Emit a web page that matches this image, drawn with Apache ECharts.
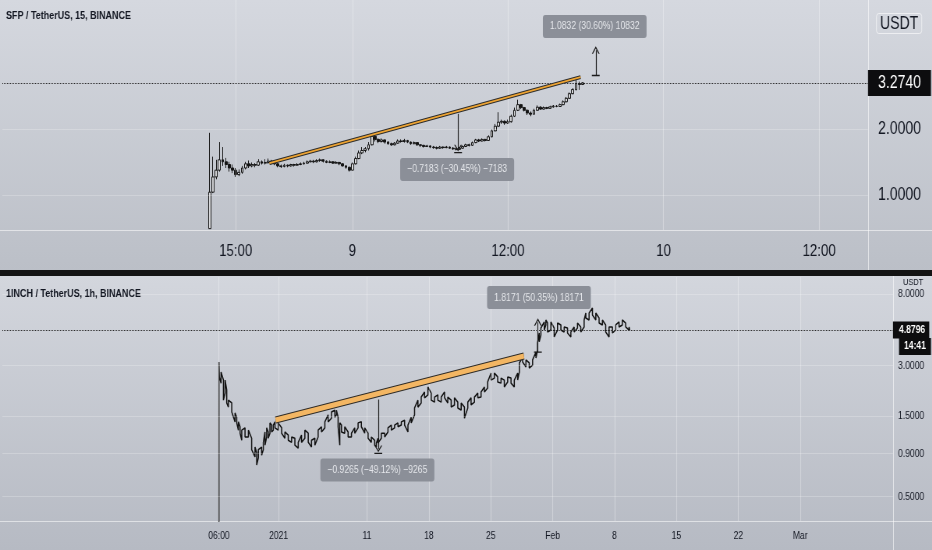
<!DOCTYPE html>
<html>
<head>
<meta charset="utf-8">
<title>SFP / 1INCH</title>
<script src="https://cdn.jsdelivr.net/npm/echarts@6/dist/echarts.min.js"></script>
<style>
html,body{margin:0;padding:0;width:932px;height:550px;overflow:hidden;background:#c5c8d0;}
#wrap{position:relative;width:932px;height:550px;overflow:hidden;}
.bg{position:absolute;left:0;width:932px;}
#bgTop{top:0;height:271px;background:linear-gradient(#d5d8df,#bbbfc7);}
#bgBot{top:276px;height:274px;background:linear-gradient(#d3d6dd,#b6bac3);}
#sep{position:absolute;left:0;top:270px;width:932px;height:6px;background:#141414;}
.hl{position:absolute;left:0;width:932px;height:1px;background:rgba(255,255,255,0.55);}
.vl{position:absolute;width:1px;background:rgba(255,255,255,0.55);}
#chart{position:absolute;left:0;top:0;height:550px;transform-origin:0 0;}
</style>
</head>
<body>
<div id="wrap">
<div class="bg" id="bgTop"></div>
<div class="bg" id="bgBot"></div>
<div id="sep"></div>
<div class="hl" style="top:230px"></div>
<div class="vl" style="left:868px;top:0;height:270px"></div>
<div class="hl" style="top:521px"></div>
<div class="vl" style="left:893px;top:276px;height:274px"></div>
<div id="chart"></div>
</div>
<script>
// ---------- top panel : SFP / TetherUS, 15 min ----------
const sfpTitle = 'SFP / TetherUS, 15, BINANCE';
const sfpStartHour = 13;      // hours since 8 Feb 00:00
const sfpStepHours = 0.25;    // 15-minute candles
const sfpFirstOpen = 0.70;
const sfpClose = [1.03,1.21,1.30,1.45,1.42,1.38,1.33,1.30,1.24,1.27,
  1.33,1.39,1.36,1.38,1.37,1.42,1.40,1.41,1.43,1.41,
  1.39,1.36,1.35,1.37,1.36,1.38,1.37,1.38,1.39,1.40,
  1.42,1.43,1.42,1.44,1.45,1.43,1.41,1.42,1.40,1.41,
  1.39,1.36,1.34,1.30,1.39,1.47,1.56,1.60,1.63,1.70,
  1.86,1.80,1.76,1.79,1.75,1.72,1.70,1.73,1.77,1.76,
  1.78,1.75,1.72,1.74,1.70,1.69,1.67,1.68,1.66,1.65,
  1.64,1.66,1.65,1.66,1.64,1.63,1.62,1.64,1.67,1.70,
  1.69,1.74,1.79,1.77,1.80,1.78,1.85,1.97,2.07,2.16,
  2.18,2.14,2.17,2.30,2.45,2.60,2.52,2.45,2.38,2.35,
  2.45,2.53,2.48,2.52,2.50,2.54,2.56,2.55,2.60,2.68,
  2.78,2.92,3.05,3.25,3.22,3.274];
const sfpHigh = [1.93,1.50,1.45,1.75,1.66,1.48,1.42,1.38,1.33,1.31,
  1.36,1.42,1.44,1.41,1.40,1.46,1.44,1.46,1.47,1.45,
  1.43,1.40,1.38,1.39,1.38,1.39,1.39,1.40,1.41,1.42,
  1.44,1.45,1.45,1.46,1.47,1.46,1.44,1.44,1.43,1.43,
  1.42,1.40,1.37,1.35,1.41,1.50,1.60,1.66,1.66,1.75,
  1.90,1.88,1.82,1.82,1.80,1.77,1.74,1.75,1.80,1.80,
  1.81,1.79,1.76,1.76,1.75,1.71,1.70,1.70,1.69,1.68,
  1.67,1.68,1.67,1.68,1.67,1.66,1.65,1.66,1.69,1.72,
  1.72,1.76,1.81,1.81,1.82,1.81,1.88,2.00,2.12,2.40,
  2.22,2.20,2.22,2.34,2.52,2.74,2.62,2.54,2.47,2.42,
  2.49,2.58,2.56,2.55,2.54,2.57,2.59,2.59,2.63,2.72,
  2.82,2.96,3.10,3.40,3.32,3.30];
const sfpLow = [0.70,1.02,1.18,1.28,1.36,1.33,1.28,1.26,1.21,1.22,
  1.25,1.31,1.33,1.34,1.34,1.36,1.38,1.38,1.39,1.38,
  1.37,1.34,1.33,1.34,1.34,1.35,1.35,1.36,1.37,1.38,
  1.39,1.41,1.40,1.41,1.42,1.41,1.40,1.40,1.39,1.39,
  1.37,1.35,1.32,1.28,1.29,1.38,1.46,1.54,1.57,1.60,
  1.69,1.76,1.73,1.74,1.72,1.70,1.68,1.69,1.72,1.74,
  1.74,1.73,1.70,1.71,1.68,1.66,1.65,1.66,1.64,1.63,
  1.62,1.63,1.63,1.64,1.63,1.61,1.60,1.61,1.63,1.66,
  1.67,1.68,1.73,1.75,1.76,1.76,1.77,1.84,1.96,2.05,
  2.12,2.10,2.12,2.15,2.28,2.43,2.48,2.42,2.33,2.30,
  2.34,2.44,2.46,2.47,2.48,2.49,2.52,2.53,2.54,2.58,
  2.66,2.76,2.90,3.02,3.04,3.20];
const sfpLast = 3.2740;
const sfpTickHours = [15, 24, 36, 48, 60];
const sfpTickLabels = ['15:00', '9', '12:00', '10', '12:00'];
const sfpPriceTicks = [2, 1];
const sfpTrend = [[17.6, 1.40], [41.6, 3.48]];
const sfpDrop = { at: 32.15, from: 2.3589, to: 1.6406, text: '\u22120.7183 (\u221230.45%) \u22127183', label: [32.08, 1.31] };
const sfpRise = { at: 42.77, from: 3.5399, to: 4.6231, text: '1.0832 (30.60%) 10832', label: [42.69, 5.95] };

// ---------- bottom panel : 1INCH / TetherUS, 1 h ----------
const inchTitle = '1INCH / TetherUS, 1h, BINANCE';
const inchListDay = -6.75;   // days since 1 Jan 2021 (25 Dec 06:00)
const inchListLow = 0.30;
const inchListHigh = 3.15;
const inchDays = [-6.70,-6.51,-6.24,-6.05,-5.87,-5.68,-5.30,-4.93,-4.74,-4.55,
  -4.36,-4.17,-3.80,-3.42,-3.05,-2.67,-2.48,-2.29,-1.92,-1.73,
  -1.54,-1.35,-1.17,-0.98,-0.79,-0.60,-0.41,-0.04,0.34,0.71,
  1.09,1.47,1.84,2.22,2.59,2.97,3.35,3.72,4.10,4.47,
  4.85,5.23,5.60,5.98,6.36,6.54,6.73,6.92,7.11,7.48,
  7.86,8.24,8.61,8.99,9.36,9.74,10.12,10.49,10.87,11.06,
  11.24,11.62,12.00,12.37,12.75,13.12,13.50,13.88,14.25,14.63,
  15.00,15.38,15.76,16.13,16.51,16.89,17.26,17.64,18.01,18.39,
  18.77,19.14,19.52,19.89,20.27,20.65,21.02,21.40,21.77,22.15,
  22.53,22.90,23.28,23.65,24.03,24.41,24.78,25.16,25.53,25.91,
  26.29,26.66,27.04,27.23,27.60,27.98,28.35,28.73,29.11,29.29,
  29.48,29.67,30.05,30.23,30.42,30.80,31.17,31.55,31.93,32.30,
  32.68,33.06,33.43,33.81,34.18,34.56,34.75,35.12,35.50,35.88,
  36.25,36.63,37.00,37.38,37.76,38.13,38.51,38.88,39.26,39.64];
const inchHigh = [3.11,2.75,2.46,2.46,2.15,1.87,1.80,1.57,1.48,1.39,
  1.30,1.24,1.28,1.24,1.11,0.985,0.91,0.95,0.985,1.05,
  1.21,1.28,1.21,1.37,1.33,1.33,1.39,1.37,1.28,1.21,
  1.16,1.13,1.11,1.05,1.16,1.24,1.19,1.08,1.11,1.24,
  1.30,1.39,1.53,1.59,1.63,1.63,1.48,1.37,1.33,1.30,
  1.21,1.19,1.28,1.37,1.39,1.28,1.19,1.13,1.08,1.04,
  1.11,1.19,1.19,1.28,1.33,1.33,1.37,1.39,1.42,1.33,
  1.48,1.68,1.87,1.95,2.09,2.24,2.06,1.95,2.01,1.95,
  2.09,1.95,1.87,1.93,1.82,1.80,1.70,1.82,1.93,1.95,
  2.06,2.09,2.24,2.40,2.71,2.71,2.57,2.53,2.46,2.57,
  2.53,2.46,2.71,3.11,3.37,3.24,3.11,3.24,3.61,4.09,
  4.69,5.02,5.45,5.60,5.37,5.45,5.02,5.37,5.23,5.09,
  5.02,4.75,5.09,5.37,5.09,5.60,6.16,6.16,6.59,6.16,
  5.75,5.60,5.23,5.09,5.09,5.23,5.45,5.60,5.37,5.09];
const inchLow = [2.57,2.36,1.87,2.06,1.80,1.70,1.59,1.39,1.37,1.24,
  1.19,1.08,1.13,1.13,0.95,0.86,0.77,0.85,0.88,0.95,
  1.01,1.13,1.11,1.19,1.21,1.24,1.28,1.24,1.19,1.11,
  1.08,1.05,1.01,0.97,1.05,1.11,1.05,0.985,1.01,1.13,
  1.21,1.28,1.39,1.46,1.48,1.53,1.30,1.01,1.21,1.19,
  1.13,1.13,1.19,1.28,1.30,1.19,1.11,1.05,1.01,0.985,
  1.04,1.11,1.13,1.21,1.24,1.28,1.30,1.33,1.33,1.21,
  1.37,1.53,1.70,1.80,1.93,2.01,1.87,1.82,1.87,1.82,
  1.93,1.80,1.70,1.75,1.68,1.63,1.46,1.68,1.75,1.82,
  1.93,1.95,2.09,2.21,2.46,2.53,2.40,2.36,2.24,2.40,
  2.36,2.24,2.46,2.75,3.15,2.94,2.90,3.02,3.33,3.71,
  4.15,4.56,4.88,5.23,4.75,4.88,4.44,4.88,4.88,4.75,
  4.69,4.44,4.75,5.02,4.75,5.09,5.75,5.60,6.00,5.60,
  5.37,5.23,4.75,4.44,4.69,4.88,5.09,5.23,5.09,4.88];
const inchLastDay = 39.72;
const inchLast = 4.8796;
const inchCountdown = '14:41';
const inchCountdownPrice = 3.90;
const inchTickDays = [-6.75, 0, 10, 17, 24, 31, 38, 45, 52, 59];
const inchTickLabels = ['06:00', '2021', '11', '18', '25', 'Feb', '8', '15', '22', 'Mar'];
const inchPriceTicks = [8, 3, 1.5, 0.9, 0.5];
const inchTrend = [[-0.34, 1.425], [27.75, 3.42]];
const inchDrop = { at: 11.28, from: 1.8862, to: 0.9597, text: '\u22120.9265 (\u221249.12%) \u22129265', label: [11.17, 0.72] };
const inchRise = { at: 29.33, from: 3.6088, to: 5.4259, text: '1.8171 (50.35%) 18171', label: [29.45, 7.61] };

// ---------- build ----------
// The reference screenshot is horizontally condensed: draw wider, then squeeze with CSS.
const S = 0.78;
const W = Math.round(932 / S);
const px = v => v / S;   // page-pixel horizontal size -> chart-pixel size
const chartDom = document.getElementById('chart');
chartDom.style.width = W + 'px';
chartDom.style.transform = 'scaleX(' + S + ')';

const FONT = "'Liberation Sans',Arial,sans-serif";
const INK = '#131722';
const CHEVRON = 'path://M5,1L10,8.5L8.5,8.5L5,3.3L1.5,8.5L0,8.5ZM0,0L0.01,0ZM0,10L0.01,10Z';
const BAR = 'path://M0,4.3L10,4.3L10,5.7L0,5.7ZM5,0L5.01,0ZM5,10L5.01,10Z';
const CHEVRON_BAR = 'path://M5,1.6L10,8.5L8.5,8.5L5,3.7L1.5,8.5L0,8.5ZM0,0L10,0L10,1.2L0,1.2ZM0,10L0.01,10Z';

const sfpCandles = sfpClose.map((c, i) => [
  sfpStartHour + i * sfpStepHours,
  i === 0 ? sfpFirstOpen : sfpClose[i - 1], c, sfpLow[i], sfpHigh[i]
]);

const inchPath = [[inchListDay, inchListLow], [inchListDay, inchListHigh]];
inchDays.forEach((d, k) => {
  if (k % 2 === 0) { inchPath.push([d, inchHigh[k]], [d, inchLow[k]]); }
  else { inchPath.push([d, inchLow[k]], [d, inchHigh[k]]); }
});
inchPath.push([inchLastDay, inchLast]);

const topLabelMap = {};
sfpTickHours.forEach((h, i) => { topLabelMap[Math.round(h * 4)] = sfpTickLabels[i]; });
const botLabelMap = {};
inchTickDays.forEach((d, i) => { botLabelMap[Math.round(d * 4)] = inchTickLabels[i]; });

function guides(xs, ys, fontSize, dist) {
  return xs.map(x => ({ xAxis: x, label: { show: false },
      lineStyle: { color: 'rgba(255,255,255,0.3)', width: 1.2, type: 'solid' } }))
    .concat(ys.map(y => ({ yAxis: y,
      label: { show: true, position: 'end', distance: dist, formatter: y.toFixed(4),
               fontSize: fontSize, fontFamily: FONT, color: INK },
      lineStyle: { color: 'rgba(255,255,255,0.22)', width: 1, type: 'solid' } })));
}
function lastPrice(v, fontSize, pad, weight) {
  return { yAxis: v, lineStyle: { color: '#2a2a2a', type: 'dotted', width: 1 },
    label: { show: true, position: 'end', distance: 0, formatter: v.toFixed(4),
      backgroundColor: '#0d0d0f', color: '#ffffff', fontSize: fontSize, fontWeight: weight,
      fontFamily: FONT, padding: pad } };
}
function measure(m, up) {
  const ls = { color: '#1b1b1b', width: 1.2, type: 'solid' };
  return [
    { coord: [m.at, m.from], symbol: up ? BAR : 'none', symbolSize: 10, lineStyle: ls, label: { show: false } },
    { coord: [m.at, m.to], symbol: up ? CHEVRON : CHEVRON_BAR, symbolSize: 10, lineStyle: ls, label: { show: false } }
  ];
}
function boxes(items) {
  return {
    silent: true, animation: false, symbol: 'rect', symbolSize: 1,
    itemStyle: { color: 'rgba(0,0,0,0)' },
    label: { show: true, position: 'inside', color: '#e4e6ea', fontSize: 11, fontFamily: FONT,
      formatter: '{b}', backgroundColor: '#8b8f98', borderRadius: 3, padding: [6, px(7), 6, px(7)] },
    data: items
  };
}

const option = {
  backgroundColor: 'transparent',
  animation: false,
  title: [
    { text: sfpTitle, left: px(6), top: 10, padding: 0,
      textStyle: { fontFamily: FONT, fontSize: 11.5, fontWeight: 'bold', color: INK } },
    { text: 'USDT', left: px(876), top: 13, padding: [2, px(4), 1, px(4)], borderColor: 'rgba(255,255,255,0.6)',
      borderWidth: 1, borderRadius: 3,
      textStyle: { fontFamily: FONT, fontSize: 18, fontWeight: 'normal', color: INK } },
    { text: inchTitle, left: px(6), top: 288, padding: 0,
      textStyle: { fontFamily: FONT, fontSize: 11.5, fontWeight: 'bold', color: INK } },
    { text: 'USDT', left: px(903), top: 277, padding: 0,
      textStyle: { fontFamily: FONT, fontSize: 9.5, fontWeight: 'normal', color: INK } }
  ],
  grid: [
    { left: 0, top: 0, width: px(868), height: 230 },
    { left: 0, top: 277, width: px(893), height: 244 }
  ],
  xAxis: [
    { type: 'value', gridIndex: 0, min: -3, max: 63.77, interval: 3,
      axisLine: { show: false }, axisTick: { show: false }, splitLine: { show: false },
      axisLabel: { margin: 13, color: INK, fontSize: 17, fontFamily: FONT,
        formatter: v => topLabelMap[Math.round(v * 4)] || '' } },
    { type: 'value', gridIndex: 1, min: -31.25, max: 69.5, interval: 0.25,
      axisLine: { show: false }, axisTick: { show: false }, splitLine: { show: false },
      axisLabel: { margin: 9, color: INK, fontSize: 11, fontFamily: FONT,
        formatter: v => botLabelMap[Math.round(v * 4)] || '' } }
  ],
  yAxis: [
    { type: 'log', gridIndex: 0, logBase: 2, min: 0.69, max: 7.87, position: 'right',
      axisLine: { show: false }, axisTick: { show: false }, axisLabel: { show: false }, splitLine: { show: false } },
    { type: 'log', gridIndex: 1, logBase: 2, min: 0.358, max: 10.08, position: 'right',
      axisLine: { show: false }, axisTick: { show: false }, axisLabel: { show: false }, splitLine: { show: false } }
  ],
  series: [
    { name: 'SFP', type: 'candlestick', xAxisIndex: 0, yAxisIndex: 0, clip: true,
      encode: { x: 0, y: [1, 2, 3, 4] }, barWidth: px(2.6), z: 2,
      itemStyle: { color: '#d6d7da', color0: '#141414', borderColor: '#141414', borderColor0: '#141414', borderWidth: 1 },
      data: sfpCandles },
    { name: 'SFP trend outline', type: 'line', xAxisIndex: 0, yAxisIndex: 0, data: sfpTrend,
      symbol: 'none', z: 5, lineStyle: { color: '#2b2b2b', width: 3.8 }, silent: true,
      markLine: { silent: true, animation: false, symbol: ['none', 'none'],
        data: guides(sfpTickHours, sfpPriceTicks, 18, px(10)).concat([lastPrice(sfpLast, 18, [4, px(10), 4, px(10)], 'normal')]) } },
    { name: 'SFP trend', type: 'line', xAxisIndex: 0, yAxisIndex: 0, data: sfpTrend,
      symbol: 'none', z: 6, lineStyle: { color: '#efa534', width: 1.7 }, silent: true,
      markLine: { silent: true, animation: false, symbol: ['none', 'none'],
        data: [measure(sfpDrop, false), measure(sfpRise, true)] },
      markPoint: boxes([
        { name: sfpDrop.text, coord: sfpDrop.label },
        { name: sfpRise.text, coord: sfpRise.label }
      ]) },

    { name: '1INCH', type: 'line', xAxisIndex: 1, yAxisIndex: 1, data: inchPath, clip: true,
      symbol: 'none', z: 3, lineStyle: { color: '#111111', width: 1.5 }, silent: true },
    { name: '1INCH trend outline', type: 'line', xAxisIndex: 1, yAxisIndex: 1, data: inchTrend,
      symbol: 'none', z: 5, lineStyle: { color: '#2d2a26', width: 7 }, silent: true,
      markLine: { silent: true, animation: false, symbol: ['none', 'none'],
        data: guides(inchTickDays, inchPriceTicks, 11, px(5)).concat([
          lastPrice(inchLast, 11, [3, px(4), 3, px(6)], 'bold'),
          { yAxis: inchCountdownPrice, lineStyle: { color: 'rgba(0,0,0,0)', width: 0 },
            label: { show: true, position: 'end', distance: px(6), formatter: inchCountdown,
              backgroundColor: '#0d0d0f', color: '#ffffff', fontSize: 11, fontWeight: 'bold',
              fontFamily: FONT, padding: [3, px(5), 3, px(5)] } }
        ]) } },
    { name: '1INCH trend', type: 'line', xAxisIndex: 1, yAxisIndex: 1, data: inchTrend,
      symbol: 'none', z: 6, lineStyle: { color: '#f3b663', width: 5 }, silent: true,
      markLine: { silent: true, animation: false, symbol: ['none', 'none'],
        data: [measure(inchDrop, false), measure(inchRise, true)] },
      markPoint: boxes([
        { name: inchDrop.text, coord: inchDrop.label },
        { name: inchRise.text, coord: inchRise.label }
      ]) }
  ]
};

const chart = echarts.init(chartDom, null, { renderer: 'canvas' });
chart.setOption(option);
</script>
</body>
</html>
